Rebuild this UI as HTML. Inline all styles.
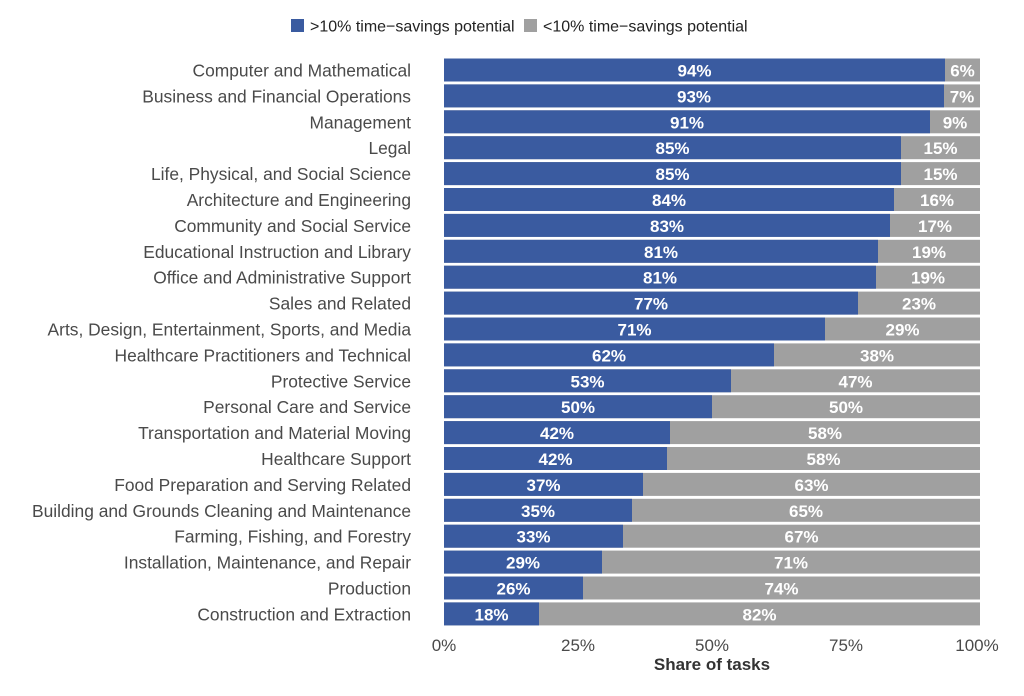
<!DOCTYPE html>
<html><head><meta charset="utf-8"><style>
body{margin:0;background:#fff;}
svg text{font-family:"Liberation Sans",Arial,sans-serif;}
.g{fill:#a0a0a0}.b{fill:#3a5ba0}
.v{font-size:17px;font-weight:bold;fill:#fff;text-anchor:middle}
.l{font-size:17.4px;fill:#4a4a4a;text-anchor:end}
</style></head><body>
<svg width="1024" height="691" xmlns="http://www.w3.org/2000/svg">
<rect x="291" y="19" width="13" height="13" fill="#3a5ba0"/>
<text x="310" y="31.5" font-size="16" fill="#222">&gt;10% time−savings potential</text>
<rect x="524" y="19" width="13" height="13" fill="#a0a0a0"/>
<text x="543" y="31.5" font-size="16" fill="#222">&lt;10% time−savings potential</text>

<g transform="translate(0,1)">
<rect class="g" x="444" y="57.5" width="536" height="23"/><rect class="b" x="444" y="57.5" width="501" height="23"/>
<text class="v" x="694.5" y="75.5">94%</text><text class="v" x="962.5" y="75.5">6%</text><text class="l" x="411" y="75.5">Computer and Mathematical</text>

<rect class="g" x="444" y="83.4" width="536" height="23"/><rect class="b" x="444" y="83.4" width="500" height="23"/>
<text class="v" x="694" y="101.4">93%</text><text class="v" x="962" y="101.4">7%</text><text class="l" x="411" y="101.4">Business and Financial Operations</text>

<rect class="g" x="444" y="109.3" width="536" height="23"/><rect class="b" x="444" y="109.3" width="486" height="23"/>
<text class="v" x="687" y="127.3">91%</text><text class="v" x="955" y="127.3">9%</text><text class="l" x="411" y="127.3">Management</text>

<rect class="g" x="444" y="135.2" width="536" height="23"/><rect class="b" x="444" y="135.2" width="457" height="23"/>
<text class="v" x="672.5" y="153.2">85%</text><text class="v" x="940.5" y="153.2">15%</text><text class="l" x="411" y="153.2">Legal</text>

<rect class="g" x="444" y="161.1" width="536" height="23"/><rect class="b" x="444" y="161.1" width="457" height="23"/>
<text class="v" x="672.5" y="179.1">85%</text><text class="v" x="940.5" y="179.1">15%</text><text class="l" x="411" y="179.1">Life, Physical, and Social Science</text>

<rect class="g" x="444" y="187" width="536" height="23"/><rect class="b" x="444" y="187" width="450" height="23"/>
<text class="v" x="669" y="205">84%</text><text class="v" x="937" y="205">16%</text><text class="l" x="411" y="205">Architecture and Engineering</text>

<rect class="g" x="444" y="212.9" width="536" height="23"/><rect class="b" x="444" y="212.9" width="446" height="23"/>
<text class="v" x="667" y="230.9">83%</text><text class="v" x="935" y="230.9">17%</text><text class="l" x="411" y="230.9">Community and Social Service</text>

<rect class="g" x="444" y="238.8" width="536" height="23"/><rect class="b" x="444" y="238.8" width="434" height="23"/>
<text class="v" x="661" y="256.8">81%</text><text class="v" x="929" y="256.8">19%</text><text class="l" x="411" y="256.8">Educational Instruction and Library</text>

<rect class="g" x="444" y="264.7" width="536" height="23"/><rect class="b" x="444" y="264.7" width="432" height="23"/>
<text class="v" x="660" y="282.7">81%</text><text class="v" x="928" y="282.7">19%</text><text class="l" x="411" y="282.7">Office and Administrative Support</text>

<rect class="g" x="444" y="290.6" width="536" height="23"/><rect class="b" x="444" y="290.6" width="414" height="23"/>
<text class="v" x="651" y="308.6">77%</text><text class="v" x="919" y="308.6">23%</text><text class="l" x="411" y="308.6">Sales and Related</text>

<rect class="g" x="444" y="316.5" width="536" height="23"/><rect class="b" x="444" y="316.5" width="381" height="23"/>
<text class="v" x="634.5" y="334.5">71%</text><text class="v" x="902.5" y="334.5">29%</text><text class="l" x="411" y="334.5">Arts, Design, Entertainment, Sports, and Media</text>

<rect class="g" x="444" y="342.4" width="536" height="23"/><rect class="b" x="444" y="342.4" width="330" height="23"/>
<text class="v" x="609" y="360.4">62%</text><text class="v" x="877" y="360.4">38%</text><text class="l" x="411" y="360.4">Healthcare Practitioners and Technical</text>

<rect class="g" x="444" y="368.3" width="536" height="23"/><rect class="b" x="444" y="368.3" width="287" height="23"/>
<text class="v" x="587.5" y="386.3">53%</text><text class="v" x="855.5" y="386.3">47%</text><text class="l" x="411" y="386.3">Protective Service</text>

<rect class="g" x="444" y="394.2" width="536" height="23"/><rect class="b" x="444" y="394.2" width="268" height="23"/>
<text class="v" x="578" y="412.2">50%</text><text class="v" x="846" y="412.2">50%</text><text class="l" x="411" y="412.2">Personal Care and Service</text>

<rect class="g" x="444" y="420.1" width="536" height="23"/><rect class="b" x="444" y="420.1" width="226" height="23"/>
<text class="v" x="557" y="438.1">42%</text><text class="v" x="825" y="438.1">58%</text><text class="l" x="411" y="438.1">Transportation and Material Moving</text>

<rect class="g" x="444" y="446" width="536" height="23"/><rect class="b" x="444" y="446" width="223" height="23"/>
<text class="v" x="555.5" y="464">42%</text><text class="v" x="823.5" y="464">58%</text><text class="l" x="411" y="464">Healthcare Support</text>

<rect class="g" x="444" y="471.9" width="536" height="23"/><rect class="b" x="444" y="471.9" width="199" height="23"/>
<text class="v" x="543.5" y="489.9">37%</text><text class="v" x="811.5" y="489.9">63%</text><text class="l" x="411" y="489.9">Food Preparation and Serving Related</text>

<rect class="g" x="444" y="497.8" width="536" height="23"/><rect class="b" x="444" y="497.8" width="188" height="23"/>
<text class="v" x="538" y="515.8">35%</text><text class="v" x="806" y="515.8">65%</text><text class="l" x="411" y="515.8">Building and Grounds Cleaning and Maintenance</text>

<rect class="g" x="444" y="523.7" width="536" height="23"/><rect class="b" x="444" y="523.7" width="179" height="23"/>
<text class="v" x="533.5" y="541.7">33%</text><text class="v" x="801.5" y="541.7">67%</text><text class="l" x="411" y="541.7">Farming, Fishing, and Forestry</text>

<rect class="g" x="444" y="549.6" width="536" height="23"/><rect class="b" x="444" y="549.6" width="158" height="23"/>
<text class="v" x="523" y="567.6">29%</text><text class="v" x="791" y="567.6">71%</text><text class="l" x="411" y="567.6">Installation, Maintenance, and Repair</text>

<rect class="g" x="444" y="575.5" width="536" height="23"/><rect class="b" x="444" y="575.5" width="139" height="23"/>
<text class="v" x="513.5" y="593.5">26%</text><text class="v" x="781.5" y="593.5">74%</text><text class="l" x="411" y="593.5">Production</text>

<rect class="g" x="444" y="601.4" width="536" height="23"/><rect class="b" x="444" y="601.4" width="95" height="23"/>
<text class="v" x="491.5" y="619.4">18%</text><text class="v" x="759.5" y="619.4">82%</text><text class="l" x="411" y="619.4">Construction and Extraction</text>
</g>

<g font-size="17" fill="#4a4a4a" text-anchor="middle">
<text x="444" y="651">0%</text><text x="578" y="651">25%</text><text x="712" y="651">50%</text><text x="846" y="651">75%</text><text x="977" y="651">100%</text>
</g>
<text x="712" y="670" font-size="17" font-weight="bold" fill="#333" text-anchor="middle">Share of tasks</text>
</svg>
</body></html>
